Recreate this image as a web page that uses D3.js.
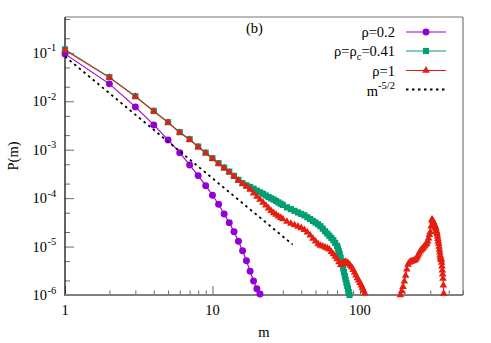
<!DOCTYPE html>
<html>
<head>
<meta charset="utf-8">
<script src="https://cdn.jsdelivr.net/npm/d3@7"></script>
<style>
  body { margin: 0; background: #fff; }
  svg { display: block; }
  svg text { font-family: "Liberation Serif", "DejaVu Serif", serif; }
</style>
</head>
<body>
<svg id="chart" width="491" height="343" font-family="Liberation Serif, DejaVu Serif, serif"></svg>
<script>
// rho = 0.2
var mPurple = [1, 2, 3, 4, 5, 6, 7, 8, 9, 10, 11, 12, 13, 14, 15, 16, 17, 18, 19, 20, 21];
var pPurple = [0.095, 0.0229, 0.00766, 0.00325, 0.00159, 0.00087, 4.85e-4, 2.92e-4, 1.81e-4, 1.15e-4,
  7.48e-5, 4.72e-5, 3.12e-5, 2.03e-5, 1.29e-5, 8.2e-6, 5.1e-6, 3.1e-6, 1.95e-6, 1.35e-6, 1.05e-6];

// rho = rho_c = 0.41
var mGreen = [1, 2, 3, 4, 5, 6, 7, 8, 9, 10, 11, 12, 13, 14, 15, 16, 17, 18, 19, 20,
  21, 22, 23, 24, 25, 26, 27, 28, 29, 30, 32, 34, 36, 38, 40, 42, 44, 46, 48, 50,
  52, 54, 56, 58, 60, 62, 64, 66, 68, 70, 71, 72, 73, 74, 75, 76, 77, 78, 79, 80,
  81, 82, 83, 84, 85];
var pGreen = [0.118, 0.0315, 0.0127, 0.00634, 0.0037, 0.0023, 0.00165, 0.00116, 0.00087, 6.67e-4,
  5.26e-4, 4.27e-4, 3.53e-4, 2.88e-4, 2.38e-4, 2.03e-4, 1.84e-4, 1.71e-4, 1.57e-4, 1.43e-4,
  1.32e-4, 1.23e-4, 1.135e-4, 1.054e-4, 9.89e-5, 9.33e-5, 8.75e-5, 8.17e-5, 7.67e-5, 7.24e-5,
  6.46e-5, 5.92e-5, 5.47e-5, 5.07e-5, 4.73e-5, 4.42e-5, 4.03e-5, 3.70e-5, 3.39e-5, 3.13e-5,
  2.88e-5, 2.63e-5, 2.34e-5, 2.07e-5, 1.86e-5, 1.68e-5, 1.51e-5, 1.35e-5, 1.19e-5, 1.03e-5,
  9.12e-6, 7.94e-6, 6.92e-6, 5.89e-6, 5.01e-6, 4.27e-6, 3.55e-6, 2.95e-6, 2.45e-6, 2.09e-6,
  1.78e-6, 1.55e-6, 1.35e-6, 1.15e-6, 1.0e-6];

// rho = 1, main branch
var mRed = [1, 2, 3, 4, 5, 6, 7, 8, 9, 10, 11, 12, 13, 14, 15, 16, 17, 18, 19, 20,
  21, 22, 23, 24, 25, 26, 27, 28, 29, 30, 32, 34, 36, 38, 40, 42, 44, 46, 48, 50,
  52, 54, 56, 58, 60, 62, 64, 66, 68, 70, 72, 74, 76, 78, 80, 82, 84, 86, 88, 90,
  92, 94, 96, 98, 100, 102, 104, 106, 108];
var pRed = [0.114, 0.0308, 0.0125, 0.0062, 0.00362, 0.00225, 0.00161, 0.00114, 0.00085, 6.5e-4,
  5.1e-4, 4.15e-4, 3.42e-4, 2.8e-4, 2.32e-4, 1.98e-4, 1.74e-4, 1.51e-4, 1.26e-4, 1.08e-4,
  9.31e-5, 8.11e-5, 7.08e-5, 6.19e-5, 5.46e-5, 4.94e-5, 4.56e-5, 4.22e-5, 3.94e-5, 3.70e-5,
  3.28e-5, 2.98e-5, 2.78e-5, 2.60e-5, 2.42e-5, 2.22e-5, 1.96e-5, 1.71e-5, 1.46e-5, 1.28e-5,
  1.13e-5, 1.05e-5, 1.01e-5, 9.64e-6, 9.23e-6, 8.75e-6, 7.80e-6, 6.98e-6, 6.25e-6, 5.50e-6,
  4.79e-6, 4.20e-6, 4.40e-6, 4.66e-6, 4.91e-6, 4.67e-6, 4.42e-6, 4.06e-6, 3.72e-6, 3.31e-6,
  2.89e-6, 2.54e-6, 2.23e-6, 2.0e-6, 1.78e-6, 1.59e-6, 1.42e-6, 1.24e-6, 1.08e-6];

// rho = 1, peak near the system size
var mPeak = [188, 192, 196, 200, 204, 208, 212, 216, 220, 224, 228, 232, 236, 240, 244, 248,
  252, 256, 260, 264, 268, 272, 276, 280, 284, 288, 292, 296, 300, 304, 308,
  310, 312, 314, 316, 318, 320, 322, 324, 326, 328, 330, 332, 334, 336, 338, 340,
  342, 344, 346, 348, 350, 352, 354, 356, 358, 360, 362, 364, 366, 368, 370];
var pPeak = [1.0e-6, 1.20e-6, 1.48e-6, 1.91e-6, 2.51e-6, 3.39e-6, 4.27e-6, 4.68e-6, 4.90e-6, 4.95e-6,
  5.01e-6, 5.13e-6, 5.25e-6, 5.50e-6, 6.03e-6, 6.61e-6, 7.24e-6, 7.94e-6, 8.51e-6, 8.91e-6,
  9.33e-6, 1.0e-5, 1.05e-5, 1.11e-5, 1.16e-5, 1.29e-5, 1.48e-5, 1.74e-5, 2.0e-5, 2.63e-5, 3.63e-5,
  3.55e-5, 3.39e-5, 3.24e-5, 3.09e-5, 2.95e-5, 2.82e-5, 2.69e-5, 2.60e-5, 2.45e-5, 2.29e-5,
  2.11e-5, 1.95e-5, 1.82e-5, 1.62e-5, 1.45e-5, 1.29e-5, 1.16e-5, 1.0e-5, 8.71e-6, 7.59e-6,
  6.61e-6, 6.03e-6, 5.62e-6, 5.31e-6, 4.68e-6, 3.89e-6, 3.24e-6, 2.69e-6, 2.19e-6, 1.58e-6, 1.07e-6];

// m^-5/2 guide, end points
var mGuide = [1, 35];
var pGuide = [0.084, 1.1e-5];

var xTickVals = [1, 10, 100];
var xTickLabels = ["1", "10", "100"];
var yTickVals = [1e-1, 1e-2, 1e-3, 1e-4, 1e-5, 1e-6];
var yTickExps = ["-1", "-2", "-3", "-4", "-5", "-6"];

var plotL = 65, plotR = 463, plotT = 17, plotB = 295;
var cPurple = "#9400d3", cGreen = "#009e73", cRed = "#e51e10";
var serif = "'Liberation Serif', 'DejaVu Serif', serif";

var svg = d3.select("#chart");
var x = d3.scaleLog().domain([1, 500]).range([plotL, plotR]);
var y = d3.scaleLog().domain([1e-6, 0.55]).range([plotB, plotT]);

svg.append("clipPath").attr("id", "clip")
  .append("rect")
  .attr("x", plotL).attr("y", plotT)
  .attr("width", plotR - plotL).attr("height", plotB - plotT);

// minor tick positions
var xMinor = [];
[1, 10, 100].forEach(function(d) {
  for (var k = 2; k <= 9; k++) if (d * k <= 500) xMinor.push(d * k);
});
var yMinor = [];
yTickVals.forEach(function(d) {
  [2, 5].forEach(function(k) { if (d * k < 0.55) yMinor.push(d * k); });
});

var tickColor = "#6a6a6a";
function addAxis(axis, tx, ty) {
  var g = svg.append("g").attr("transform", "translate(" + tx + "," + ty + ")").call(axis);
  g.select(".domain").remove();
  g.selectAll(".tick line").attr("stroke", tickColor).attr("stroke-width", 1);
  g.selectAll(".tick text").remove();
}
addAxis(d3.axisBottom(x).tickValues(xTickVals).tickSizeInner(-9).tickSizeOuter(0), 0, plotB);
addAxis(d3.axisBottom(x).tickValues(xMinor).tickSizeInner(-4.5).tickSizeOuter(0), 0, plotB);
addAxis(d3.axisLeft(y).tickValues(yTickVals).tickSizeInner(-9).tickSizeOuter(0), plotL, 0);
addAxis(d3.axisLeft(y).tickValues(yMinor).tickSizeInner(-5).tickSizeOuter(0), plotL, 0);

// frame
svg.append("line").attr("x1", plotL).attr("x2", plotR).attr("y1", plotT).attr("y2", plotT)
  .attr("stroke", "#777").attr("stroke-width", 1.2);
svg.append("line").attr("x1", plotR).attr("x2", plotR).attr("y1", plotT).attr("y2", plotB)
  .attr("stroke", "#777").attr("stroke-width", 1.2);
svg.append("line").attr("x1", plotL).attr("x2", plotL).attr("y1", plotT).attr("y2", plotB + 1)
  .attr("stroke", "#111").attr("stroke-width", 1.3);
svg.append("line").attr("x1", plotL).attr("x2", plotR).attr("y1", plotB).attr("y2", plotB)
  .attr("stroke", "#808080").attr("stroke-width", 2);

function label(px, py, size, anchor) {
  return svg.append("text").attr("x", px).attr("y", py)
    .attr("font-family", serif).attr("font-size", size)
    .attr("text-anchor", anchor || "start");
}

// tick labels
xTickVals.forEach(function(d, i) {
  label(x(d), 315, 14.5, "middle").text(xTickLabels[i]);
});
yTickVals.forEach(function(d, i) {
  label(47, y(d) + 5, 14.5, "end").text("10");
  label(47.5, y(d) - 1.5, 10.5).text(yTickExps[i]);
});

label(264, 337, 14.5, "middle").text("m");
label(0, 0, 14.5, "middle").attr("transform", "translate(18,156) rotate(-90)").text("P(m)");
label(246, 33, 14.5).text("(b)");

// series
var symCircle = d3.symbol().type(d3.symbolCircle).size(38);
var symSquare = d3.symbol().type(d3.symbolSquare).size(38);
var symTriangle = d3.symbol().type(d3.symbolTriangle).size(25);

var line = d3.line()
  .x(function(d) { return x(d[0]); })
  .y(function(d) { return y(d[1]); });

function drawSeries(ms, ps, color, sym) {
  var pts = ms.map(function(m, i) { return [m, ps[i]]; })
    .filter(function(d) { return d[1] >= 1e-6; });
  var g = svg.append("g");
  g.append("path").datum(pts)
    .attr("clip-path", "url(#clip)")
    .attr("fill", "none").attr("stroke", color).attr("stroke-width", 1.1)
    .attr("d", line);
  g.selectAll("path.pt").data(pts).enter().append("path")
    .attr("class", "pt")
    .attr("d", sym)
    .attr("fill", color)
    .attr("transform", function(d) { return "translate(" + x(d[0]) + "," + y(d[1]) + ")"; });
}

drawSeries(mPurple, pPurple, cPurple, symCircle);
drawSeries(mGreen, pGreen, cGreen, symSquare);
drawSeries(mRed, pRed, cRed, symTriangle);
drawSeries(mPeak, pPeak, cRed, symTriangle);

svg.append("path").datum(mGuide.map(function(m, i) { return [m, pGuide[i]]; }))
  .attr("clip-path", "url(#clip)")
  .attr("fill", "none").attr("stroke", "#000").attr("stroke-width", 1.8)
  .attr("stroke-dasharray", "2.5,3.5")
  .attr("d", line);

// legend
var legRows = [
  { y: 32, color: cPurple, sym: symCircle, dash: false },
  { y: 51, color: cGreen, sym: symSquare, dash: false },
  { y: 70.5, color: cRed, sym: symTriangle, dash: false },
  { y: 89.5, color: "#000", sym: null, dash: true }
];
legRows.forEach(function(r) {
  svg.append("line").attr("x1", 406).attr("x2", 446).attr("y1", r.y).attr("y2", r.y)
    .attr("stroke", r.color)
    .attr("stroke-width", r.dash ? 1.8 : 1.1)
    .attr("stroke-dasharray", r.dash ? "2.5,3.5" : null);
  if (r.sym) {
    svg.append("path").attr("d", r.sym).attr("fill", r.color)
      .attr("transform", "translate(426," + r.y + ")");
  }
});

label(395, 37, 14.5, "end").text("ρ=0.2");
var t2 = label(395, 56, 14.5, "end");
t2.append("tspan").text("ρ=ρ");
t2.append("tspan").attr("dy", 4).attr("font-size", 10.5).text("c");
t2.append("tspan").attr("dy", -4).text("=0.41");
label(395, 75.5, 14.5, "end").text("ρ=1");
var t4 = label(395, 96, 14.5, "end");
t4.append("tspan").text("m");
t4.append("tspan").attr("dy", -7).attr("font-size", 10.5).text("-5/2");
</script>
</body>
</html>
